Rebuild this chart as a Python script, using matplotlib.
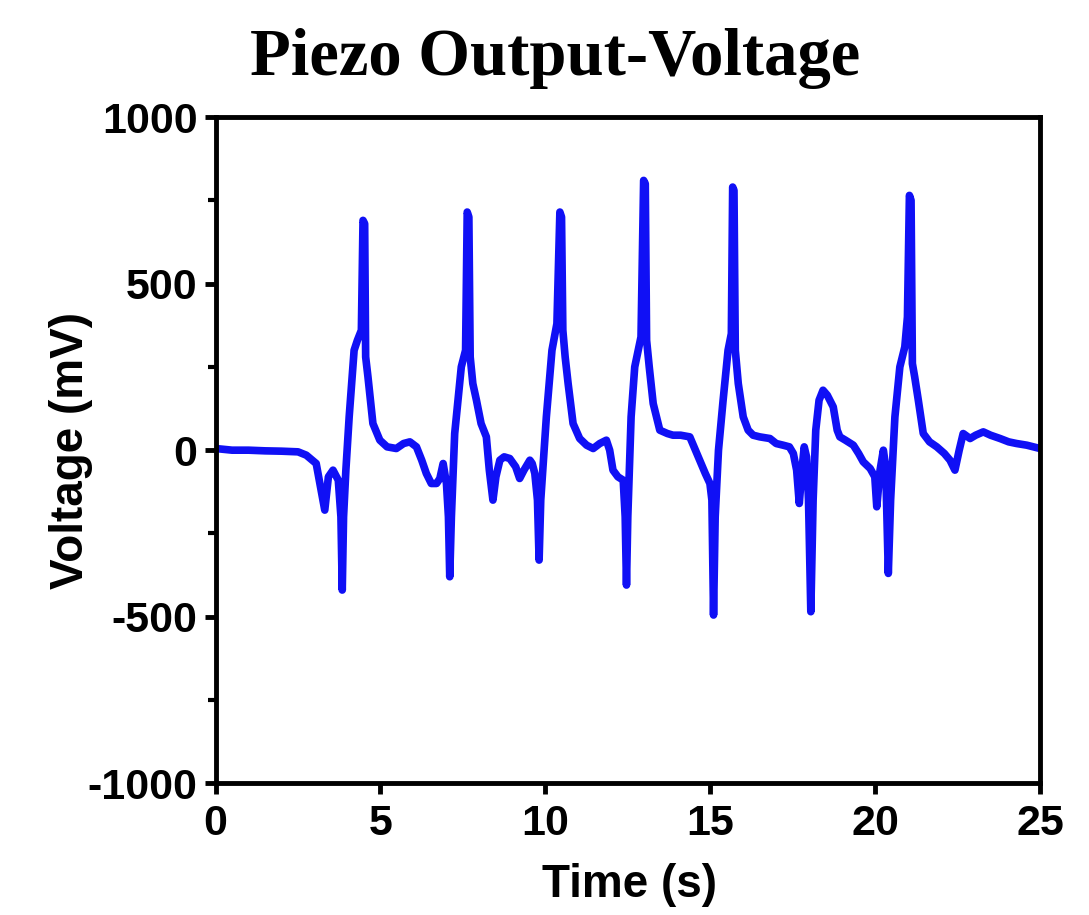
import matplotlib
matplotlib.use("Agg")
import matplotlib.pyplot as plt
from matplotlib.ticker import MultipleLocator

plt.rcParams["axes.unicode_minus"] = False

time_s = [0, 0.5, 1.0, 1.5, 2.0, 2.5, 2.75, 3.05, 3.2, 3.31, 3.42, 3.56, 3.72, 3.8, 3.84, 3.88,
          3.95, 4.05, 4.2, 4.3, 4.42, 4.47, 4.52, 4.55, 4.62, 4.77, 4.98, 5.2, 5.48, 5.7, 5.89,
          6.09, 6.25, 6.39, 6.54, 6.7, 6.8, 6.9, 7.0, 7.06, 7.1, 7.15, 7.25, 7.45, 7.58, 7.63,
          7.68, 7.72, 7.8, 7.91, 8.05, 8.21, 8.3, 8.41, 8.5, 8.62, 8.75, 8.92, 9.1, 9.22, 9.35,
          9.53, 9.6, 9.68, 9.76, 9.81, 9.86, 10.03, 10.2, 10.35, 10.44, 10.49, 10.53, 10.6,
          10.69, 10.84, 11.04, 11.25, 11.45, 11.65, 11.85, 11.95, 12.05, 12.2, 12.36, 12.42,
          12.46, 12.5, 12.6, 12.71, 12.9, 12.98, 13.03, 13.07, 13.15, 13.27, 13.47, 13.7, 13.87,
          14.1, 14.38, 14.55, 14.68, 14.85, 14.99, 15.05, 15.1, 15.15, 15.25, 15.39, 15.54,
          15.64, 15.68, 15.72, 15.76, 15.85, 16.0, 16.15, 16.3, 16.5, 16.81, 17.0, 17.21, 17.4,
          17.52, 17.62, 17.7, 17.78, 17.85, 17.92, 17.98, 18.05, 18.12, 18.2, 18.3, 18.42,
          18.55, 18.73, 18.85, 18.93, 19.1, 19.34, 19.5, 19.64, 19.85, 19.99, 20.05, 20.15,
          20.25, 20.32, 20.4, 20.47, 20.6, 20.75, 20.9, 20.98, 21.04, 21.09, 21.13, 21.2,
          21.31, 21.46, 21.65, 21.87, 22.1, 22.27, 22.42, 22.55, 22.67, 22.88, 23.05, 23.28,
          23.5, 23.79, 24.05, 24.29, 24.6, 25.0]
voltage_mv = [5, 0, 0, -2, -3, -5, -15, -40, -120, -180, -80, -60, -90, -200, -420, -200,
              -60, 100, 300, 330, 360, 690, 680, 280, 220, 80, 30, 10, 5, 20, 25,
              10, -30, -70, -100, -100, -85, -40, -100, -200, -380, -200, 50, 250, 300, 715,
              700, 280, 200, 150, 80, 40, -60, -150, -80, -30, -20, -25, -50, -85, -60,
              -30, -40, -70, -150, -330, -150, 100, 300, 380, 715, 700, 360, 280,
              200, 80, 35, 15, 5, 20, 30, 0, -60, -80, -90, -200,
              -405, -200, 100, 250, 340, 810, 800, 330, 250, 140, 60, 50, 45,
              45, 40, 0, -30, -70, -100, -150, -495, -200, 0, 150, 300,
              350, 790, 780, 300, 200, 100, 60, 45, 40, 35, 20, 15, 10,
              -10, -60, -160, -60, 10, -20, -150, -485, -150, 60, 150, 180,
              165, 130, 60, 40, 30, 15, -10, -35, -55, -80, -170, -60,
              0, -50, -370, -150, 100, 250, 310, 400, 765, 750, 260, 220,
              150, 50, 25, 10, -10, -30, -60, 0, 50, 35, 45, 55,
              45, 35, 25, 20, 15, 5]

fig = plt.figure(figsize=(10.89, 9.15), dpi=100)
ax = fig.add_axes([0.198, 0.144, 0.757, 0.728])

ax.plot(time_s, voltage_mv, color="#1010f5", linewidth=5.5, solid_joinstyle="round")

ax.set_xlim(0, 25)
ax.set_ylim(-1000, 1000)
ax.set_xticks([0, 5, 10, 15, 20, 25])
ax.set_yticks([-1000, -500, 0, 500, 1000])
ax.yaxis.set_minor_locator(MultipleLocator(250))

for s in ax.spines.values():
    s.set_linewidth(3.5)
ax.tick_params(which="major", direction="out", length=8, width=3.5, labelsize=31)
ax.tick_params(axis="x", pad=7)
ax.tick_params(axis="y", pad=5)
ax.tick_params(which="minor", direction="out", length=6, width=3)
for lab in ax.get_xticklabels() + ax.get_yticklabels():
    lab.set_fontweight("bold")
    lab.set_family("Liberation Sans")

ax.set_xlabel("Time (s)", fontsize=33, fontweight="bold", family="Liberation Sans")
ax.set_ylabel("Voltage (mV)", fontsize=33, fontweight="bold", family="Liberation Sans")
ax.xaxis.set_label_coords(0.502, -0.119)
ax.yaxis.set_label_coords(-0.149, 0.5)

fig.text(0.51, 0.918, "Piezo Output-Voltage", fontsize=48, fontweight="bold",
         family="Liberation Serif", ha="center", va="baseline")

fig.savefig("out.png", dpi=100)
